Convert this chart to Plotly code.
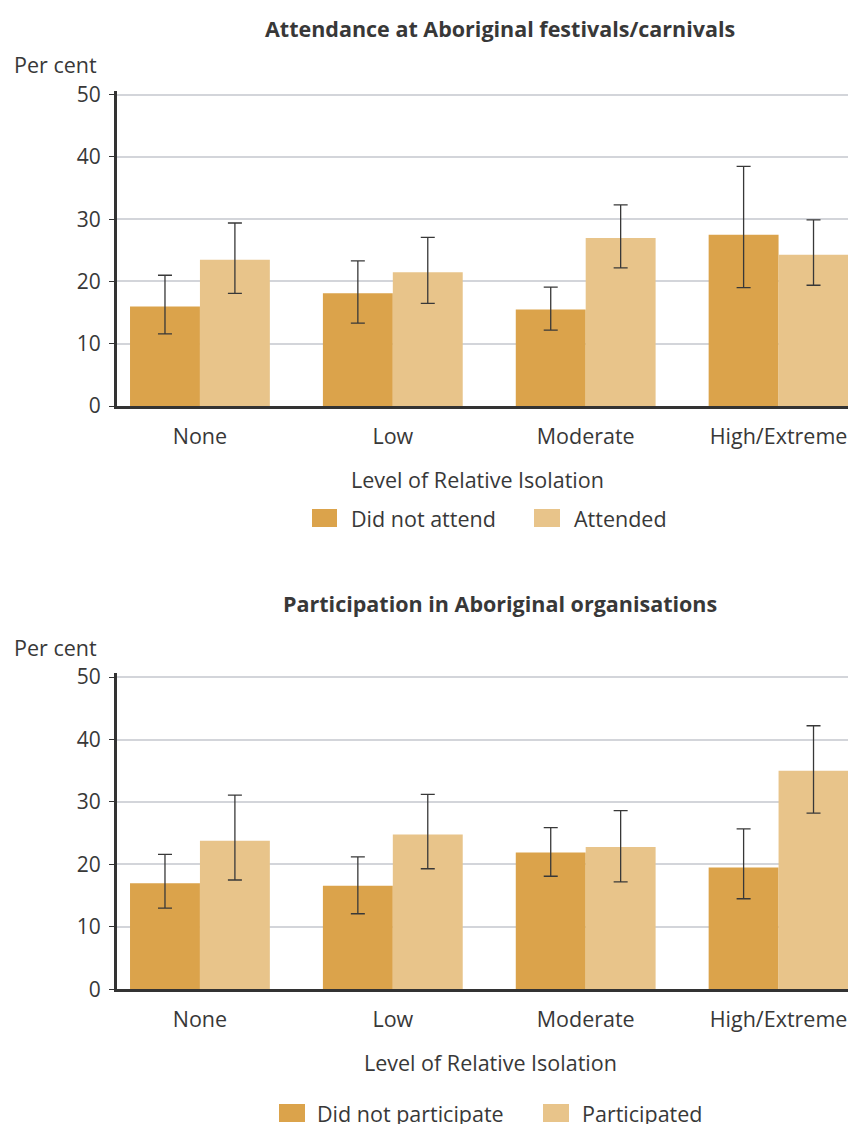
import plotly.graph_objects as go

categories = ["None", "Low", "Moderate", "High/Extreme"]

# Chart 1: Attendance at Aboriginal festivals/carnivals
att_series = ["Did not attend", "Attended"]
att_not = [16.0, 18.1, 15.5, 27.5]
att_not_hi = [21.0, 23.3, 19.1, 38.5]
att_not_lo = [11.6, 13.3, 12.2, 19.0]
att_yes = [23.5, 21.5, 27.0, 24.3]
att_yes_hi = [29.4, 27.1, 32.3, 29.9]
att_yes_lo = [18.1, 16.5, 22.2, 19.4]

# Chart 2: Participation in Aboriginal organisations
par_series = ["Did not participate", "Participated"]
par_not = [17.0, 16.6, 21.9, 19.5]
par_not_hi = [21.6, 21.2, 25.9, 25.7]
par_not_lo = [13.0, 12.1, 18.1, 14.5]
par_yes = [23.8, 24.8, 22.8, 35.0]
par_yes_hi = [31.1, 31.2, 28.6, 42.2]
par_yes_lo = [17.5, 19.3, 17.2, 28.2]

y_ticks = [0, 10, 20, 30, 40, 50]

DARK = "#DBA34B"
LIGHT = "#E8C48A"
TEXT = "#383838"
GRID = "#d3d5da"
AXIS = "#333333"
FONT = "Open Sans"

W, H = 848, 1124
L = 117


def px_x(p):
    return (p - L) / (W - L)


def px_y(p):
    return 1 - p / H


def err(vals, hi, lo):
    return dict(type="data", symmetric=False,
                array=[h - v for h, v in zip(hi, vals)],
                arrayminus=[v - l for v, l in zip(vals, lo)],
                color=TEXT, thickness=1.3, width=7)


fig = go.Figure()

fig.add_trace(go.Bar(x=categories, y=att_not, name=att_series[0], marker_color=DARK,
                     marker_line_width=0, error_y=err(att_not, att_not_hi, att_not_lo),
                     xaxis="x", yaxis="y", showlegend=False))
fig.add_trace(go.Bar(x=categories, y=att_yes, name=att_series[1], marker_color=LIGHT,
                     marker_line_width=0, error_y=err(att_yes, att_yes_hi, att_yes_lo),
                     xaxis="x", yaxis="y", showlegend=False))
fig.add_trace(go.Bar(x=categories, y=par_not, name=par_series[0], marker_color=DARK,
                     marker_line_width=0, error_y=err(par_not, par_not_hi, par_not_lo),
                     xaxis="x2", yaxis="y2", showlegend=False))
fig.add_trace(go.Bar(x=categories, y=par_yes, name=par_series[1], marker_color=LIGHT,
                     marker_line_width=0, error_y=err(par_yes, par_yes_hi, par_yes_lo),
                     xaxis="x2", yaxis="y2", showlegend=False))

xcommon = dict(type="category", range=[-0.43, 3.36], showline=True, linewidth=3,
               linecolor=AXIS, showgrid=False, ticks="", tickfont=dict(size=21.5, color=TEXT),
               ticklabelstandoff=9, automargin=False, fixedrange=True, zeroline=False)
ycommon = dict(range=[0, 50.6], tickvals=y_ticks, showline=True, linewidth=3,
               linecolor=AXIS, showgrid=True, gridcolor=GRID, gridwidth=1.6,
               ticks="outside", ticklen=5, tickwidth=1, tickcolor=AXIS,
               ticklabelstandoff=4,
               tickfont=dict(size=21, color=TEXT), automargin=False, zeroline=False,
               fixedrange=True)

fig.update_layout(
    width=W, height=H,
    margin=dict(l=L, r=0, t=0, b=0, autoexpand=False),
    paper_bgcolor="white", plot_bgcolor="white",
    font=dict(family=FONT, color=TEXT, size=21),
    barmode="group", bargap=0.275, bargroupgap=0,
    showlegend=False,
    xaxis=dict(xcommon, domain=[0, 1], anchor="y"),
    yaxis=dict(ycommon, domain=[px_y(406), px_y(91)], anchor="x"),
    xaxis2=dict(xcommon, domain=[0, 1], anchor="y2"),
    yaxis2=dict(ycommon, domain=[px_y(989.3), px_y(673.3)], anchor="x2"),
)

annots = [
    dict(text="<b>Attendance at Aboriginal festivals/carnivals</b>", x=px_x(500), y=px_y(28),
         xanchor="center", yanchor="middle", font=dict(size=21.5)),
    dict(text="<b>Participation in Aboriginal organisations</b>", x=px_x(500), y=px_y(603),
         xanchor="center", yanchor="middle", font=dict(size=21.5)),
    dict(text="Per cent", x=px_x(12), y=px_y(64), xanchor="left", yanchor="middle",
         font=dict(size=21.5)),
    dict(text="Per cent", x=px_x(12), y=px_y(647), xanchor="left", yanchor="middle",
         font=dict(size=21.5)),
    dict(text="Level of Relative Isolation", x=px_x(477), y=px_y(480), xanchor="center",
         yanchor="middle", font=dict(size=21.5)),
    dict(text="Level of Relative Isolation", x=px_x(490), y=px_y(1062), xanchor="center",
         yanchor="middle", font=dict(size=21.5)),
]

# Legends: swatch + label, (swatch left px, swatch right px, label left px, centre y px)
legend_items = [
    (att_series[0], DARK, 312, 337, 349, 518),
    (att_series[1], LIGHT, 534, 560, 572, 518),
    (par_series[0], DARK, 279, 305, 315, 1113),
    (par_series[1], LIGHT, 543, 569, 580, 1113),
]
for name, col, x0, x1, tx, cy in legend_items:
    fig.add_shape(type="rect", xref="paper", yref="paper",
                  x0=px_x(x0), x1=px_x(x1), y0=px_y(cy + 9), y1=px_y(cy - 9),
                  fillcolor=col, line_width=0, layer="above")
    annots.append(dict(text=name, x=px_x(tx), y=px_y(cy), xanchor="left",
                       yanchor="middle", font=dict(size=21.5)))

for a in annots:
    fig.add_annotation(xref="paper", yref="paper", showarrow=False, **a)

fig.write_html("out.html", config={"displayModeBar": False},
               post_script="document.body.style.margin='0';document.body.style.overflow='hidden';")
